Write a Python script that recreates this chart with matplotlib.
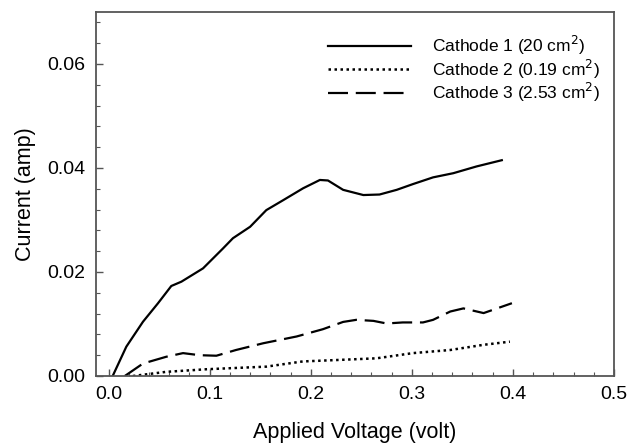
import matplotlib
matplotlib.use("Agg")
import matplotlib.pyplot as plt
from matplotlib.ticker import MultipleLocator

plt.rcParams['font.family'] = ['Liberation Sans', 'DejaVu Sans']

v1 = [0.004, 0.0175, 0.034, 0.0488, 0.062, 0.072, 0.0934, 0.113, 0.123, 0.140,
      0.156, 0.1726, 0.1924, 0.209, 0.217, 0.232, 0.252, 0.268, 0.285, 0.301,
      0.321, 0.341, 0.364, 0.389]
i1 = [0.0, 0.00564, 0.01044, 0.01398, 0.01731, 0.01814, 0.0207, 0.0245, 0.0265, 0.0287,
      0.0319, 0.0338, 0.0361, 0.0377, 0.0376, 0.0358, 0.0348, 0.0349, 0.0358, 0.0369,
      0.0382, 0.0390, 0.0403, 0.0415]

v2 = [0.024, 0.057, 0.097, 0.156, 0.192, 0.229, 0.265, 0.301, 0.338, 0.371, 0.397]
i2 = [0.0, 0.0008, 0.0013, 0.0018, 0.0028, 0.0031, 0.0034, 0.0044, 0.0050, 0.0060, 0.0066]

v3 = [0.016, 0.034, 0.057, 0.0736, 0.090, 0.1066, 0.126, 0.153, 0.186, 0.212,
      0.232, 0.245, 0.262, 0.275, 0.291, 0.311, 0.321, 0.338, 0.351, 0.371, 0.399]
i3 = [0.0, 0.0024, 0.0037, 0.0044, 0.0040, 0.0039, 0.0050, 0.0063, 0.0076, 0.0090,
      0.0104, 0.0108, 0.0106, 0.0101, 0.0103, 0.0103, 0.0108, 0.0124, 0.0130, 0.0121, 0.0140]

labels = ["Cathode 1 (20 cm$^2$)", "Cathode 2 (0.19 cm$^2$)", "Cathode 3 (2.53 cm$^2$)"]

fig = plt.figure(figsize=(6.29, 4.45), dpi=100)
ax = fig.add_axes([96/629, 1-376/445, (614-96)/629, (376-12)/445])

ax.plot(v1, i1, color='black', lw=1.6, ls='-', label=labels[0])
ax.plot(v2, i2, color='black', lw=1.8, ls=(0, (1, 1.4)), label=labels[1])
ax.plot(v3, i3, color='black', lw=1.6, ls=(0, (9, 3.5)), label=labels[2])

ax.set_xlim(-0.0125, 0.5)
ax.set_ylim(0, 0.07)
ax.set_xticks([0.0, 0.1, 0.2, 0.3, 0.4, 0.5])
ax.set_yticks([0.00, 0.02, 0.04, 0.06])
ax.xaxis.set_minor_locator(MultipleLocator(0.02))
ax.yaxis.set_minor_locator(MultipleLocator(0.004))
ax.set_xticklabels(["0.0", "0.1", "0.2", "0.3", "0.4", "0.5"])
ax.set_yticklabels(["0.00", "0.02", "0.04", "0.06"])
ax.tick_params(which='both', direction='in', top=False, right=False, color='#555555', labelsize=14)
ax.tick_params(axis='x', which='major', length=5, width=1.0, pad=7)
ax.tick_params(axis='y', which='major', length=5, width=1.0, pad=8)
ax.tick_params(which='minor', length=3, width=0.8)
for s in ax.spines.values():
    s.set_color('#555555')
    s.set_linewidth(1.3)

ax.set_xlabel("Applied Voltage (volt)", fontsize=15.5, labelpad=14)
ax.set_ylabel("Current (amp)", fontsize=15.5, labelpad=8)

ax.legend(loc='upper left', frameon=False, fontsize=12.5, handlelength=4.8,
          handletextpad=1.2, labelspacing=0.02, borderpad=0, borderaxespad=0,
          bbox_to_anchor=((328-96)/518, (376-34)/364))

fig.savefig("out.png", dpi=100)
